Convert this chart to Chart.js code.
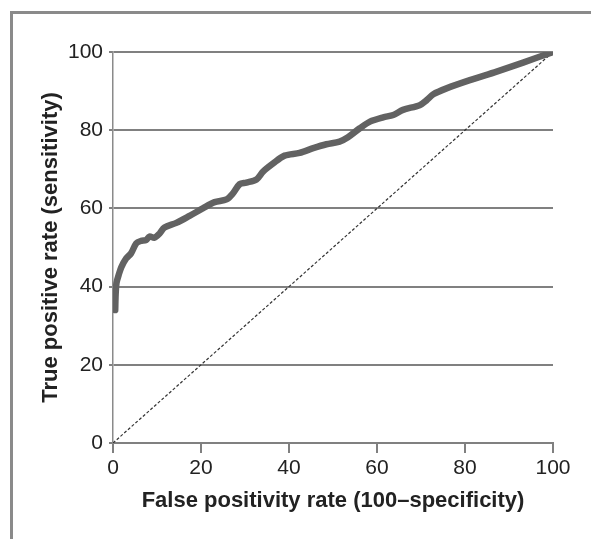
<!DOCTYPE html>
<html>
<head>
<meta charset="utf-8">
<script src="https://cdn.jsdelivr.net/npm/chart.js@4/dist/chart.umd.min.js"></script>
<style>
  html, body { margin: 0; padding: 0; background: #fff; overflow: hidden; }
  #wrap { position: relative; width: 591px; height: 539px; }
  #frame { position: absolute; left: 10px; top: 11px; width: 700px; height: 700px;
           border: 3px solid #8a8a8a; box-sizing: border-box; }
  canvas { position: absolute; left: 0; top: 0; }
</style>
</head>
<body>
<div id="wrap">
  <div id="frame"></div>
  <canvas id="roc" width="591" height="539"></canvas>
</div>
<script>
// false positive rate (x) and true positive rate (y)
var fpr = [0.5, 0.6, 0.8, 1.3, 1.9, 3.0, 4.1, 5.3, 6.4, 7.5, 8.3, 9.4, 10.6, 11.7,
    14.4, 17.4, 20.4, 23.1, 25.8, 27.3, 28.8, 30.3, 32.6, 34.1, 36.4, 39.0, 42.4,
    45.5, 48.5, 51.5, 53.4, 56.1, 58.4, 61.4, 63.7, 65.9, 69.7, 71.3, 72.8, 75.8,
    81.1, 87.2, 93.2, 100];
var tpr = [34, 38, 41, 43, 45, 47.2, 48.5, 51.1, 51.7, 51.9, 52.8, 52.5, 53.6, 55.1,
    56.3, 58.1, 60.0, 61.6, 62.3, 63.9, 66.2, 66.6, 67.4, 69.4, 71.5, 73.5, 74.2,
    75.4, 76.4, 77.1, 78.2, 80.5, 82.2, 83.3, 83.9, 85.2, 86.4, 87.7, 89.2, 90.7,
    92.8, 95.0, 97.3, 100];

var refX = [0, 100];
var refY = [0, 100];

var tickValues = [0, 20, 40, 60, 80, 100];

var xTitle = 'False positivity rate (100\u2013specificity)';
var yTitle = 'True positive rate (sensitivity)';

function toPoints(xs, ys) {
    return xs.map(function (x, i) { return { x: x, y: ys[i] }; });
}

Chart.defaults.font.family = '"Liberation Sans", Arial, Helvetica, sans-serif';
Chart.defaults.color = '#222';

new Chart(document.getElementById('roc'), {
    type: 'scatter',
    data: {
        datasets: [{
            data: toPoints(fpr, tpr),
            showLine: true,
            borderColor: '#626262',
            borderWidth: 6.5,
            borderCapStyle: 'round',
            borderJoinStyle: 'round',
            pointRadius: 0,
            tension: 0.3
        }, {
            data: toPoints(refX, refY),
            showLine: true,
            borderColor: '#333',
            borderWidth: 1.2,
            borderDash: [3, 2],
            pointRadius: 0
        }]
    },
    options: {
        responsive: false,
        animation: false,
        events: [],
        layout: { padding: { left: 0, right: 38, top: 52, bottom: 0 } },
        plugins: {
            legend: { display: false },
            tooltip: { enabled: false }
        },
        scales: {
            x: {
                type: 'linear',
                min: 0,
                max: 100,
                afterBuildTicks: function (s) {
                    s.ticks = tickValues.map(function (v) { return { value: v }; });
                },
                afterFit: function (s) { s.height = 96; },
                grid: {
                    drawOnChartArea: false,
                    drawTicks: true,
                    tickLength: 10,
                    color: '#808080',
                    lineWidth: 2
                },
                border: { color: '#808080', width: 2 },
                ticks: { font: { size: 21 }, padding: 3, maxRotation: 0 },
                title: {
                    display: true,
                    text: xTitle,
                    font: { size: 22, weight: 'bold' },
                    padding: { top: 25, bottom: 25 }
                }
            },
            y: {
                min: 0,
                max: 100,
                afterBuildTicks: function (s) {
                    s.ticks = tickValues.map(function (v) { return { value: v }; });
                },
                afterFit: function (s) { s.width = 113; },
                grid: {
                    drawOnChartArea: true,
                    drawTicks: true,
                    tickLength: 4,
                    color: '#808080',
                    lineWidth: 2
                },
                border: { color: '#8a8a8a', width: 1.5 },
                ticks: { font: { size: 21 }, padding: 6 },
                title: {
                    display: true,
                    text: yTitle,
                    font: { size: 22, weight: 'bold' },
                    padding: { top: 38, bottom: 38 }
                }
            }
        }
    }
});
</script>
</body>
</html>
